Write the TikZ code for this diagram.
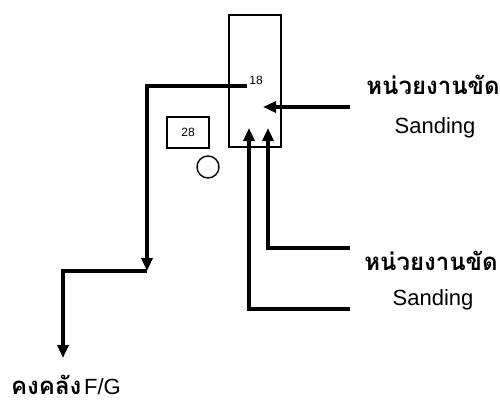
\documentclass[tikz,border=0pt]{standalone}
\usepackage{fontspec}
\setmainfont{Liberation Sans}
\newfontfamily\thaifont[Script=Thai]{Loma}
\usetikzlibrary{arrows.meta}
\tikzset{
  conn/.style={line width=3.2pt, draw=black},
  arr/.style={conn, -{Triangle[length=13pt,width=11pt]}},
  thin box/.style={draw, line width=1.4pt, inner sep=0pt},
  thlabel/.style={font=\thaifont\bfseries\fontsize{24}{28}\selectfont, inner sep=0pt},
  enlabel/.style={font=\fontsize{22}{26}\selectfont, inner sep=0pt},
  small/.style={font=\fontsize{12}{14}\selectfont, inner sep=0pt}
}
\begin{document}
\begin{tikzpicture}[x=1pt,y=-1pt]
\useasboundingbox (0,0) rectangle (500,404);
% unit box
\node[thin box, minimum width=52pt, minimum height=132pt] (unit) at (255,81) {};
\node[small] (n18) at (256,80) {18};
\node[thin box, minimum width=42pt, minimum height=31pt, font=\fontsize{12}{14}\selectfont] (b28) at (188,132.5) {28};
\node[circle, draw, line width=1.4pt, minimum size=22pt, inner sep=0pt] (c) at (208,167) {};
% labels
\node[thlabel] (tl1) at (433,85) {หน่วยงานขัด};
\node[enlabel] (ts1) at (435,128) {Sanding};
\node[thlabel] (tl2) at (431,261) {หน่วยงานขัด};
\node[enlabel] (ts2) at (433,300) {Sanding};
\node[inner sep=0pt] (fg) at (66,385) {{\thaifont\bfseries\fontsize{24}{28}\selectfont คงคลัง}\ {\fontsize{22}{26}\selectfont F/G}};
% coordinates
\coordinate (o1) at (247,86);
\coordinate (k1) at (147,271);
\coordinate (k2) at (63,358);
\coordinate (in1) at (350,107);
\coordinate (t1) at (263,107);
\coordinate (s2) at (350,248);
\coordinate (t2) at (268,128);
\coordinate (s3) at (350,309);
\coordinate (t3) at (249,128);
% connectors
\draw[arr] (o1) -| (k1);
\draw[arr] (k1) -| (k2);
\draw[arr] (in1) -- (t1);
\draw[arr] (s2) -| (t2);
\draw[arr] (s3) -| (t3);
\end{tikzpicture}
\end{document}
